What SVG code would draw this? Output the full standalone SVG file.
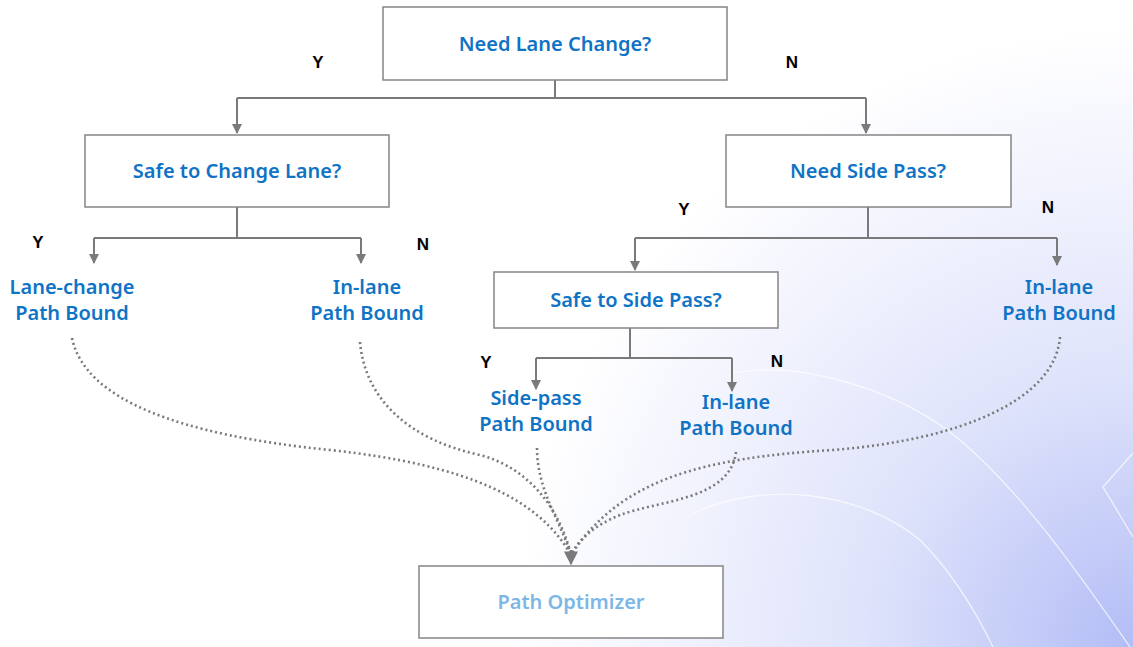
<svg xmlns="http://www.w3.org/2000/svg" width="1133" height="647" viewBox="0 0 1133 647">
<defs>
<radialGradient id="bg" cx="1133" cy="647" r="620" gradientUnits="userSpaceOnUse">
<stop offset="0" stop-color="#b3bdf6"/>
<stop offset="0.45" stop-color="#e0e4fb"/>
<stop offset="1" stop-color="#ffffff"/>
</radialGradient>
<marker id="ah" viewBox="0 0 10 10" refX="9" refY="5" markerWidth="10" markerHeight="10" markerUnits="userSpaceOnUse" orient="auto">
<path d="M0,0 L10,5 L0,10 Z" fill="#7a7a7a"/>
</marker>
<marker id="ah2" viewBox="0 0 10 10" refX="9" refY="5" markerWidth="14" markerHeight="14" markerUnits="userSpaceOnUse" orient="auto">
<path d="M0,0 L10,5 L0,10 Z" fill="#7a7a7a"/>
</marker>
<style>
.box{fill:#ffffff;stroke:#858585;stroke-width:1.5}
.t{font-family:"Noto Sans","Open Sans",sans-serif;font-weight:600;font-size:20px;fill:#0f73c6;text-anchor:middle}
.po{fill:#7db7e6}
.yn{font-family:"Liberation Sans",Arial,sans-serif;font-weight:bold;font-size:17px;fill:#000;text-anchor:middle}
.ln{fill:none;stroke:#7a7a7a;stroke-width:2}
.dt{fill:none;stroke:#7a7a7a;stroke-width:2.6;stroke-dasharray:2 3}
.bgl{fill:none;stroke:#ffffff;stroke-width:1.2;opacity:0.75}
</style>
</defs>
<rect x="0" y="0" width="1133" height="647" fill="url(#bg)"/>
<g id="background">
<path class="bgl" d="M733,373 C800,360 900,390 960,440 C1030,500 1090,590 1130,647"/>
<path class="bgl" d="M690,515 C760,480 860,490 920,540 C950,570 975,610 993,647"/>
<path class="bgl" d="M1133,453 L1103,487 L1133,537"/>
</g>
<g id="connectors">
<path class="ln" d="M555,80 V98"/>
<path class="ln" d="M237,98 H866"/>
<path class="ln" d="M237,98 V133" marker-end="url(#ah)"/>
<path class="ln" d="M866,98 V133" marker-end="url(#ah)"/>
<path class="ln" d="M237,207 V238"/>
<path class="ln" d="M94,238 H361"/>
<path class="ln" d="M94,238 V263" marker-end="url(#ah)"/>
<path class="ln" d="M361,238 V263" marker-end="url(#ah)"/>
<path class="ln" d="M868,207 V238"/>
<path class="ln" d="M635,238 H1057"/>
<path class="ln" d="M635,238 V270" marker-end="url(#ah)"/>
<path class="ln" d="M1057,238 V265" marker-end="url(#ah)"/>
<path class="ln" d="M630,328 V358"/>
<path class="ln" d="M536,358 H732"/>
<path class="ln" d="M536,358 V389" marker-end="url(#ah)"/>
<path class="ln" d="M732,358 V391" marker-end="url(#ah)"/>
<path class="dt" d="M72,338 C85,400 180,435 330,450 C470,465 540,500 571,555"/>
<path class="dt" d="M360,342 C365,400 410,440 480,455 C530,468 560,510 571,555"/>
<path class="dt" d="M537,448 C537,490 560,520 571,555"/>
<path class="dt" d="M736,452 C730,500 660,500 620,515 C595,525 578,540 571,555"/>
<path class="dt" d="M1060,337 C1055,400 960,440 833,450 C700,458 620,480 571,555"/>
<path d="M571,550 V564" fill="none" stroke="#7a7a7a" stroke-width="2" marker-end="url(#ah2)"/>
</g>
<g id="n_need_lane_change">
<rect class="box" x="383" y="7" width="344" height="73"/>
<text class="t" x="555" y="51">Need Lane Change?</text>
</g>
<g id="n_safe_change_lane">
<rect class="box" x="85" y="135" width="304" height="72"/>
<text class="t" x="237" y="178">Safe to Change Lane?</text>
</g>
<g id="n_need_side_pass">
<rect class="box" x="726" y="135" width="285" height="72"/>
<text class="t" x="868" y="178">Need Side Pass?</text>
</g>
<g id="n_safe_side_pass">
<rect class="box" x="494" y="272" width="284" height="56"/>
<text class="t" x="636" y="307">Safe to Side Pass?</text>
</g>
<g id="n_lane_change_bound">
<text class="t" x="72" y="294">Lane-change</text>
<text class="t" x="72" y="320">Path Bound</text>
</g>
<g id="n_inlane_bound_1">
<text class="t" x="367" y="294">In-lane</text>
<text class="t" x="367" y="320">Path Bound</text>
</g>
<g id="n_inlane_bound_3">
<text class="t" x="1059" y="294">In-lane</text>
<text class="t" x="1059" y="320">Path Bound</text>
</g>
<g id="n_sidepass_bound">
<text class="t" x="536" y="405">Side-pass</text>
<text class="t" x="536" y="431">Path Bound</text>
</g>
<g id="n_inlane_bound_2">
<text class="t" x="736" y="409">In-lane</text>
<text class="t" x="736" y="435">Path Bound</text>
</g>
<g id="n_path_optimizer">
<rect class="box" x="419" y="566" width="304" height="72"/>
<text class="t po" x="571" y="609">Path Optimizer</text>
</g>
<g id="labels">
<text class="yn" x="318" y="68">Y</text>
<text class="yn" x="792" y="68">N</text>
<text class="yn" x="38" y="248">Y</text>
<text class="yn" x="423" y="250">N</text>
<text class="yn" x="684" y="215">Y</text>
<text class="yn" x="1048" y="213">N</text>
<text class="yn" x="486" y="368">Y</text>
<text class="yn" x="777" y="367">N</text>
</g>
</svg>
